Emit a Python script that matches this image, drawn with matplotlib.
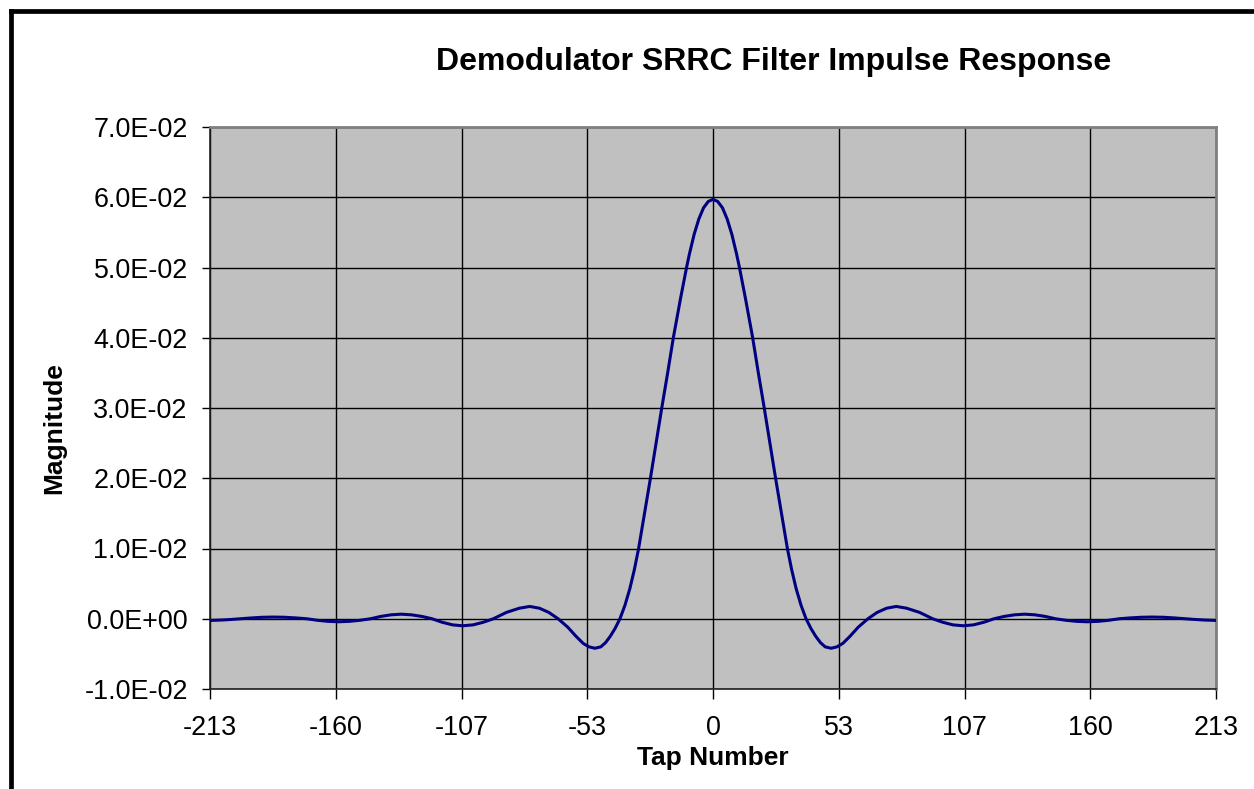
import matplotlib
matplotlib.use("Agg")
import matplotlib.pyplot as plt
from matplotlib.lines import Line2D

# ---- data ----
taps = [-213, -208, -204, -200, -195.3, -190.7, -186, -181.3, -176.7, -172,
        -167.5, -163, -158.5, -154, -149.5, -145, -140.7, -136.3, -132,
        -127.7, -123.3, -119, -114.7, -110.3, -106, -101.6, -97.3, -93,
        -87.5, -82, -77.6, -73.5, -69.5, -65.6, -61.5, -58, -55, -52.5, -50,
        -47.5, -45.5, -43.5, -41.5, -39.4, -37.3, -35.2, -33.3, -31.5, -29,
        -26.5, -24.1, -21.7, -19.2, -16.8, -13.8, -11.2, -10, -8, -6, -4, -2,
        0,
        2, 4, 6, 8, 10, 11.2, 13.8, 16.8, 19.2, 21.7, 24.1, 26.5, 29, 31.5,
        33.3, 35.2, 37.3, 39.4, 41.5, 43.5, 45.5, 47.5, 50, 52.5, 55, 58,
        61.5, 65.6, 69.5, 73.5, 77.6, 82, 87.5, 93, 97.3, 101.6, 106, 110.3,
        114.7, 119, 123.3, 127.7, 132, 136.3, 140.7, 145, 149.5, 154, 158.5,
        163, 167.5, 172, 176.7, 181.3, 186, 190.7, 195.3, 200, 204, 208, 213]
magnitude = [-0.00024, -0.00018, -0.0001, 0.0, 0.00012, 0.00021, 0.00024,
             0.00021, 0.00012, 0.0, -0.00022, -0.00037, -0.00043, -0.00037,
             -0.00022, 0.0, 0.00033, 0.00056, 0.00065, 0.00056, 0.00033, 0.0,
             -0.0005, -0.00087, -0.0010, -0.00087, -0.0005, 0.0, 0.0009,
             0.0015, 0.00175, 0.0015, 0.0009, 0.0, -0.0012, -0.0025, -0.0035,
             -0.0040, -0.0042, -0.0040, -0.0034, -0.0025, -0.0014, 0.0,
             0.0019, 0.0043, 0.0070, 0.0100, 0.0150, 0.0200, 0.0250, 0.0300,
             0.0350, 0.0400, 0.0455, 0.0500, 0.0519, 0.0547, 0.0569, 0.0585,
             0.0594, 0.0597,
             0.0594, 0.0585, 0.0569, 0.0547, 0.0519, 0.0500, 0.0455, 0.0400,
             0.0350, 0.0300, 0.0250, 0.0200, 0.0150, 0.0100, 0.0070, 0.0043,
             0.0019, 0.0, -0.0014, -0.0025, -0.0034, -0.0040, -0.0042,
             -0.0040, -0.0035, -0.0025, -0.0012, 0.0, 0.0009, 0.0015,
             0.00175, 0.0015, 0.0009, 0.0, -0.0005, -0.00087, -0.0010,
             -0.00087, -0.0005, 0.0, 0.00033, 0.00056, 0.00065, 0.00056,
             0.00033, 0.0, -0.00022, -0.00037, -0.00043, -0.00037, -0.00022,
             0.0, 0.00012, 0.00021, 0.00024, 0.00021, 0.00012, 0.0, -0.0001,
             -0.00018, -0.00024]

x_tick_pos = [-213, -159.75, -106.5, -53.25, 0, 53.25, 106.5, 159.75, 213]
x_tick_labels = ["-213", "-160", "-107", "-53", "0", "53", "107", "160", "213"]
y_tick_pos = [-0.01, 0.0, 0.01, 0.02, 0.03, 0.04, 0.05, 0.06, 0.07]
y_tick_labels = ["-1.0E-02", "0.0E+00", "1.0E-02", "2.0E-02", "3.0E-02",
                 "4.0E-02", "5.0E-02", "6.0E-02", "7.0E-02"]

title = "Demodulator SRRC Filter Impulse Response"
xlabel = "Tap Number"
ylabel = "Magnitude"

# ---- figure ----
plt.rcParams['font.family'] = ['Liberation Sans', 'DejaVu Sans']
W, H = 1254, 789
fig = plt.figure(figsize=(W / 100, H / 100), dpi=100)
fig.patch.set_facecolor("white")

ax = fig.add_axes([210 / W, 1 - 689 / H, (1216 - 210) / W, (689 - 127) / H])
ax.set_facecolor("#C0C0C0")
ax.plot(taps, magnitude, color="#000080", lw=2.2, zorder=3,
        solid_joinstyle="round")

ax.set_xlim(-213, 213)
ax.set_ylim(-0.01, 0.07)
ax.set_xticks(x_tick_pos)
ax.set_xticklabels(x_tick_labels)
ax.set_yticks(y_tick_pos)
ax.set_yticklabels(y_tick_labels)
ax.grid(True, color="black", lw=1.0, zorder=1)
ax.set_axisbelow(True)
ax.tick_params(axis="both", labelsize=19.4, colors="black", direction="out",
               width=1.0)
ax.tick_params(axis="x", length=7, pad=12)
ax.tick_params(axis="y", length=6, pad=10)

for side in ["top", "right"]:
    ax.spines[side].set_color("#808080")
    ax.spines[side].set_linewidth(2.0)
for side in ["left", "bottom"]:
    ax.spines[side].set_color("#202020")
    ax.spines[side].set_linewidth(1.2)

fig.text(773.5 / W, 1 - 62 / H, title, ha="center", va="center",
         fontsize=23, fontweight="bold")
fig.text(713 / W, 1 - 758 / H, xlabel, ha="center", va="center",
         fontsize=19, fontweight="bold")
fig.text(54 / W, 1 - 428 / H, ylabel, ha="center", va="center",
         fontsize=19, fontweight="bold", rotation=90)

# outer chart border (extends past right and bottom edges)
fig.add_artist(Line2D([11 / W, 11 / W], [0, 1 - 11 / H], color="black",
                      lw=3.4, transform=fig.transFigure, solid_capstyle="projecting"))
fig.add_artist(Line2D([11 / W, 1], [1 - 11 / H, 1 - 11 / H], color="black",
                      lw=3.4, transform=fig.transFigure, solid_capstyle="projecting"))

fig.savefig("out.png", dpi=100, facecolor="white")
